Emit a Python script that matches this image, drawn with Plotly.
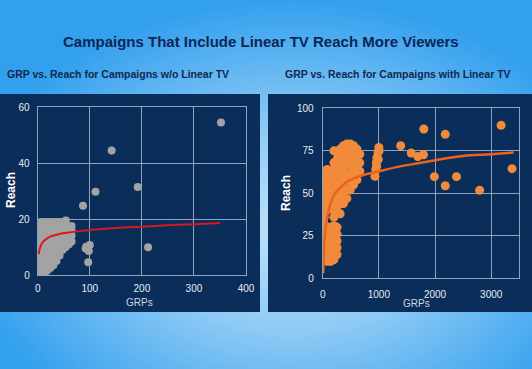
import base64
import plotly.graph_objects as go

# ---------------- data ----------------
# Left chart: campaigns without linear TV (GRPs, Reach)
left_cluster_x = [3, 2,
                  6, 6, 6, 6, 6, 6, 6, 6, 6, 6,
                  12, 12, 12, 12, 12, 12, 12, 12, 12, 12,
                  18, 18, 18, 18, 18, 18, 18, 18, 18, 18,
                  24, 24, 24, 24, 24, 24, 24, 24, 24,
                  30, 30, 30, 30, 30, 30, 30, 30, 30,
                  36, 36, 36, 36, 36, 36, 36, 36,
                  42, 42, 42, 42, 42, 42, 42,
                  48, 48, 48, 48, 48, 48,
                  54, 54, 54, 54, 54, 54,
                  60, 60, 60, 60,
                  65, 65, 65, 65]
left_cluster_y = [3.5, 1,
                  1, 3, 5, 7, 9, 11, 13, 15, 17, 19,
                  1, 3, 5, 7, 9, 11, 13, 15, 17, 19,
                  1.5, 3, 5, 7, 9, 11, 13, 15, 17, 19,
                  2.5, 4.5, 6.5, 8.5, 10.5, 12.5, 14.5, 16.5, 19,
                  3.5, 5.5, 7.5, 9.5, 11.5, 13.5, 15.5, 17.5, 19,
                  5, 7, 9, 11, 13, 15, 17, 19,
                  7, 9, 11, 13, 15, 17, 19,
                  9, 11, 13, 15, 17, 19,
                  10, 12, 14, 16, 18, 19.5,
                  11, 13, 15, 17,
                  12, 14, 16, 17.5]
left_outlier_x = [87, 111, 142, 192, 212, 352, 93, 100, 98, 97, 92]
left_outlier_y = [24.8, 29.8, 44.5, 31.5, 9.9, 54.6, 10.1, 10.7, 8.6, 4.6, 9.5]
left_trend_x = [2, 4, 8, 14, 24, 40, 56, 80, 100, 150, 200, 250, 300, 350]
left_trend_y = [7.5, 9.5, 11.3, 12.5, 13.7, 14.6, 15.1, 15.7, 16.1, 16.8, 17.3, 17.8, 18.2, 18.6]

# Right chart: campaigns with linear TV (GRPs, Reach)
right_cluster_x = [25, 25, 25, 25, 25, 25, 25, 25, 25, 25, 25, 25, 25, 25,
                   80, 80, 80, 80, 80, 80, 80, 80, 80, 80, 80, 80, 80,
                   140, 140, 140, 140, 140, 140, 140, 140, 140, 140, 140,
                   200, 200, 200, 200, 200, 200, 200, 200, 200, 200, 200, 200, 200, 200, 200, 200,
                   255, 255, 255, 255, 255, 255, 255, 255, 255, 255, 255, 255, 255,
                   310, 310, 310, 310, 310, 310, 310, 310,
                   370, 370, 370, 370, 370, 370, 370, 370, 370,
                   430, 430, 430, 430, 430, 430, 430, 430,
                   490, 490, 490, 490, 490, 490, 490,
                   550, 550, 550, 550, 550, 550,
                   610, 610, 610, 610, 610,
                   660, 660, 660,
                   930, 945, 955, 965, 985, 1000, 960, 990, 1005]
right_cluster_y = [12, 16, 20, 24, 28, 32, 36, 40, 44, 48, 52, 56, 60, 63,
                   10, 14, 18, 22, 26, 30, 40, 44, 48, 52, 56, 60, 64,
                   10, 14, 18, 22, 26, 30, 46, 50, 54, 58, 62,
                   11, 15, 19, 23, 27, 31, 36, 40, 44, 48, 52, 56, 60, 64, 68, 75,
                   14, 18, 22, 26, 30, 40, 46, 52, 58, 62, 66, 70, 74,
                   38, 44, 50, 56, 62, 67, 72, 76,
                   44, 48, 53, 58, 63, 68, 72, 76, 78,
                   47, 52, 57, 62, 67, 71, 75, 79,
                   52, 57, 62, 67, 71, 75, 79,
                   55, 60, 65, 70, 74, 78,
                   58, 63, 68, 72, 76,
                   63, 68, 73,
                   60, 64, 68, 71, 74, 77, 66, 70, 75]
right_outlier_x = [1800, 2182, 3176, 3371, 1388, 1576, 1694, 1794, 1988, 2182, 2382, 2794]
right_outlier_y = [87.8, 84.7, 90, 64.5, 78, 73.7, 71.6, 72.7, 59.8, 54.5, 59.8, 51.8]
right_trend_x = [10, 20, 30, 50, 70, 100, 150, 220, 300, 400, 500, 700, 1000, 1400, 1750, 2000, 2500, 3000, 3400]
right_trend_y = [3, 14, 22, 29, 34, 39, 45, 50, 53, 56, 58, 60.5, 63, 66, 68, 69.5, 72, 73, 74]

left_xticks = [0, 100, 200, 300, 400]
left_yticks = [0, 20, 40, 60]
right_xticks = [0, 1000, 2000, 3000]
right_yticks = [0, 25, 50, 75, 100]

title_text = "Campaigns That Include Linear TV Reach More Viewers"
left_subtitle = "GRP vs. Reach for Campaigns w/o Linear TV"
right_subtitle = "GRP vs. Reach for Campaigns with Linear TV"

# ---------------- styling ----------------
W, H = 532, 369
NAVY = "#0b2d5a"
GRID = "#8ea3bd"
TICK_FONT = dict(family="Liberation Sans, Arial, sans-serif", size=10, color="#e6ecf3")
GRAY = "#a3a3a3"
ORANGE = "#f18a3a"

def px(x):
    return x / W

def py(y):
    return 1 - y / H

svg = f'''<svg xmlns="http://www.w3.org/2000/svg" width="{W}" height="{H}">
<defs><radialGradient id="g" cx="0.55" cy="0.62" r="0.62">
<stop offset="0" stop-color="#bde3fb"/>
<stop offset="0.45" stop-color="#8ecaf5"/>
<stop offset="1" stop-color="#33a0ee"/>
</radialGradient></defs>
<rect width="{W}" height="{H}" fill="url(#g)"/></svg>'''
bg_src = "data:image/svg+xml;base64," + base64.b64encode(svg.encode()).decode()

fig = go.Figure()

fig.add_trace(go.Scatter(x=left_cluster_x + left_outlier_x, y=left_cluster_y + left_outlier_y,
                         mode="markers", marker=dict(size=8, color=GRAY, line=dict(width=0)),
                         xaxis="x", yaxis="y", showlegend=False, hoverinfo="skip"))
fig.add_trace(go.Scatter(x=left_trend_x, y=left_trend_y, mode="lines",
                         line=dict(color="#d7191c", width=2, shape="spline"),
                         xaxis="x", yaxis="y", showlegend=False, hoverinfo="skip"))
fig.add_trace(go.Scatter(x=right_cluster_x + right_outlier_x, y=right_cluster_y + right_outlier_y,
                         mode="markers", marker=dict(size=9, color=ORANGE, line=dict(width=0)),
                         xaxis="x2", yaxis="y2", showlegend=False, hoverinfo="skip"))
fig.add_trace(go.Scatter(x=right_trend_x, y=right_trend_y, mode="lines",
                         line=dict(color="#e8641b", width=2.5, shape="spline"),
                         xaxis="x2", yaxis="y2", showlegend=False, hoverinfo="skip"))

axis_common = dict(showgrid=True, gridcolor=GRID, gridwidth=1, zeroline=False,
                   showline=True, linecolor=GRID, linewidth=1, mirror=True,
                   tickfont=TICK_FONT, ticks="", fixedrange=True, automargin=False)

fig.update_layout(
    width=W, height=H, autosize=False,
    margin=dict(l=0, r=0, t=0, b=0, pad=0, autoexpand=False),
    paper_bgcolor="#5ab4f0",
    plot_bgcolor="rgba(0,0,0,0)",
    hovermode=False,
    xaxis=dict(domain=[px(37.7), px(246)], range=[0, 400], tickvals=left_xticks,
               anchor="y", ticklabelstandoff=4, **axis_common),
    yaxis=dict(domain=[py(275), py(107.3)], range=[0, 60], tickvals=left_yticks,
               anchor="x", ticklabelstandoff=5, **axis_common),
    xaxis2=dict(domain=[px(322.7), px(519.3)], range=[0, 3500], tickvals=right_xticks,
                anchor="y2", ticklabelstandoff=7, **axis_common),
    yaxis2=dict(domain=[py(278.4), py(108.3)], range=[0, 100], tickvals=right_yticks,
                anchor="x2", ticklabelstandoff=6, **axis_common),
    images=[dict(source=bg_src, xref="paper", yref="paper", x=0, y=1, sizex=1, sizey=1,
                 sizing="stretch", layer="below", xanchor="left", yanchor="top")],
    shapes=[
        dict(type="rect", xref="paper", yref="paper", x0=px(0), x1=px(260), y0=py(312), y1=py(94),
             fillcolor=NAVY, line=dict(width=0), layer="below"),
        dict(type="rect", xref="paper", yref="paper", x0=px(268), x1=px(532), y0=py(312), y1=py(94),
             fillcolor=NAVY, line=dict(width=0), layer="below"),
    ],
    annotations=[
        dict(text=f"<b>{title_text}</b>", xref="paper", yref="paper", x=px(261), y=py(41),
             showarrow=False, xanchor="center", yanchor="middle",
             font=dict(family="Liberation Sans Narrow, Arial Narrow, Liberation Sans, sans-serif",
                       size=15, color="#0d2656")),
        dict(text=f"<b>{left_subtitle}</b>", xref="paper", yref="paper", x=px(117.5), y=py(74),
             showarrow=False, xanchor="center", yanchor="middle",
             font=dict(family="Liberation Sans, Arial, sans-serif", size=10.5, color="#10284f")),
        dict(text=f"<b>{right_subtitle}</b>", xref="paper", yref="paper", x=px(397.5), y=py(74),
             showarrow=False, xanchor="center", yanchor="middle",
             font=dict(family="Liberation Sans, Arial, sans-serif", size=10.5, color="#10284f")),
        dict(text="<b>Reach</b>", xref="paper", yref="paper", x=px(11), y=py(190),
             showarrow=False, textangle=-90, xanchor="center", yanchor="middle",
             font=dict(family="Liberation Sans, Arial, sans-serif", size=12, color="#ffffff")),
        dict(text="<b>Reach</b>", xref="paper", yref="paper", x=px(286), y=py(193),
             showarrow=False, textangle=-90, xanchor="center", yanchor="middle",
             font=dict(family="Liberation Sans, Arial, sans-serif", size=12, color="#ffffff")),
        dict(text="GRPs", xref="paper", yref="paper", x=px(139), y=py(302),
             showarrow=False, xanchor="center", yanchor="middle",
             font=dict(family="Liberation Sans, Arial, sans-serif", size=10, color="#cdd6e2")),
        dict(text="GRPs", xref="paper", yref="paper", x=px(416), y=py(303.5),
             showarrow=False, xanchor="center", yanchor="middle",
             font=dict(family="Liberation Sans, Arial, sans-serif", size=10, color="#cdd6e2")),
    ],
)

fig.write_html("out.html", config={"displayModeBar": False},
               post_script="document.documentElement.style.margin='0';"
                           "document.body.style.margin='0';"
                           "document.documentElement.style.overflow='hidden';"
                           "document.body.style.overflow='hidden';")
